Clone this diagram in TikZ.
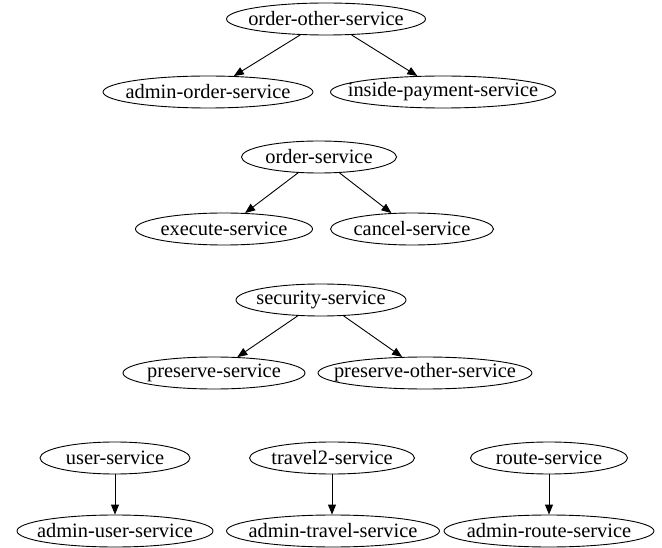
\documentclass[tikz,border=0pt]{standalone}
\usepackage{fontspec}
\setmainfont{Liberation Serif}
\usetikzlibrary{shapes.geometric,arrows.meta}

\begin{document}
\begin{tikzpicture}[
    x=1pt, y=-1pt,
    svc/.style={
        ellipse,
        draw,
        inner xsep=-30pt,
        inner ysep=0pt,
        minimum height=32pt,
        minimum width=#1,
        font=\fontsize{20.4}{24}\selectfont
    },
    line width=0.9pt,
    >={Triangle[length=10pt,width=8pt]}
]
\useasboundingbox (0,0) rectangle (662,548);

% first tree
\node[svc=199pt] (orderother) at (326,19) {order-other-service};
\node[svc=210pt] (adminorder) at (208,92) {admin-order-service};
\node[svc=225pt] (insidepay) at (443,92) {inside-payment-service};

% second tree
\node[svc=155pt] (order) at (319,157) {order-service};
\node[svc=177pt] (execute) at (224,229) {execute-service};
\node[svc=163pt] (cancel) at (412,229) {cancel-service};

% third tree
\node[svc=170pt] (security) at (321,300) {security-service};
\node[svc=182pt] (preserve) at (214,373) {preserve-service};
\node[svc=214pt] (preserveother) at (425,373) {preserve-other-service};

% bottom row
\node[svc=150pt] (user) at (115,458) {user-service};
\node[svc=196pt] (adminuser) at (115,531) {admin-user-service};
\node[svc=165pt] (travel) at (332,458) {travel2-service};
\node[svc=213pt] (admintravel) at (333,531) {admin-travel-service};
\node[svc=157pt] (route) at (549,458) {route-service};
\node[svc=210pt] (adminroute) at (549,531) {admin-route-service};

\draw[->] (orderother) -- (adminorder);
\draw[->] (orderother) -- (insidepay);
\draw[->] (order) -- (execute);
\draw[->] (order) -- (cancel);
\draw[->] (security) -- (preserve);
\draw[->] (security) -- (preserveother);
\draw[->] (user) -- (adminuser);
\draw[->] (travel) -- (travel |- admintravel.north);
\draw[->] (route) -- (adminroute);
\end{tikzpicture}
\end{document}
